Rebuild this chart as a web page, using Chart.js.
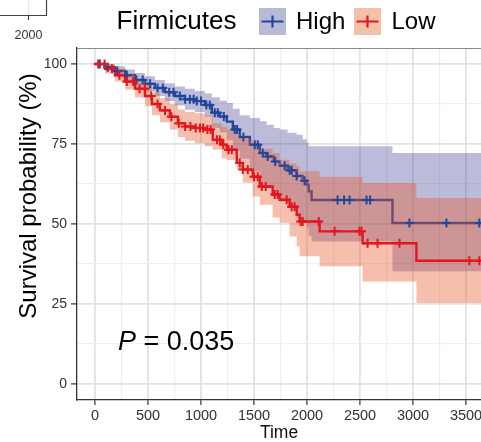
<!DOCTYPE html>
<html>
<head>
<meta charset="utf-8">
<script src="https://cdn.jsdelivr.net/npm/chart.js@4.4.0/dist/chart.umd.min.js"></script>
<style>
  html, body { margin: 0; padding: 0; background: #fff; }
  #wrap { width: 481px; height: 442px; }
</style>
</head>
<body>
<div id="wrap"><canvas id="survChart" width="481" height="442"></canvas></div>
<script>
// axis ticks
const xTicks = [0, 500, 1000, 1500, 2000, 2500, 3000, 3500];
const yTicks = [0, 25, 50, 75, 100];
const groups = ['High', 'Low'];
const legendTitle = 'Firmicutes';
const pLabel = '0.035';

// High group: step times, survival (%), confidence band
const highTime  = [0, 94, 188, 283, 377, 471, 565, 659, 753, 848, 942, 1036, 1102, 1177, 1243, 1300, 1365, 1460, 1554, 1620, 1686, 1742, 1817, 1902, 1959, 1996, 2015, 2043, 2806, 3700];
const highSurv  = [100, 99, 97.8, 96.5, 95, 93.8, 92.5, 91.2, 90, 89, 88.4, 87.2, 84.8, 83.6, 82, 79.5, 77.2, 74.8, 72.2, 71.1, 69.5, 68.2, 66.8, 65, 63.5, 62.3, 60.2, 57.5, 50.3, 50.3];
const highUpper = [100, 100, 99.3, 98.3, 97.2, 96.2, 95, 94, 93, 92.3, 91.6, 90.8, 89.6, 88.5, 87.8, 86, 84, 83.1, 82.1, 81, 80, 79.5, 78.5, 77.9, 76.5, 75.5, 74.3, 74.3, 72.2, 72.2];
const highLower = [100, 98, 96.3, 94.7, 92.8, 91.4, 90, 88.4, 87, 85.7, 85, 83.6, 80, 78.7, 76.2, 72.8, 70.4, 66.4, 62.3, 61.2, 59, 57, 55, 52, 50.5, 49, 46.2, 44.5, 35.2, 35.2];
const highCensor = [45, 120, 210, 300, 390, 450, 520, 590, 640, 700, 740, 800, 850, 895, 930, 960, 1000, 1050, 1083, 1130, 1158, 1215, 1318, 1340, 1400, 1507, 1535, 1582, 1629, 1700, 1789, 1836, 1855, 1902, 1977, 2288, 2350, 2401, 2561, 2595, 2966, 3315, 3625];

// Low group
const lowTime  = [0, 94, 188, 283, 377, 471, 537, 612, 706, 782, 848, 942, 1036, 1111, 1196, 1243, 1337, 1394, 1488, 1554, 1676, 1742, 1836, 1902, 1930, 2119, 2524, 3032, 3700];
const lowSurv  = [100, 98.5, 96.5, 94.5, 92.3, 90, 87.5, 85.5, 83.5, 81.5, 80.5, 80, 79.5, 76.3, 74.8, 73.2, 69.1, 67, 64.8, 61.7, 59.2, 57.6, 55.4, 52.9, 50.8, 47.7, 44, 38.5, 38.5];
const lowUpper = [100, 99.8, 98.5, 97, 95.2, 93.2, 91, 89.3, 87.6, 85.8, 85, 84.6, 84, 81.5, 80.4, 79.5, 77.9, 76.5, 75.4, 73.5, 72.2, 70.1, 69, 68, 66.5, 64.8, 62.8, 58.1, 58.1];
const lowLower = [100, 97, 94.5, 92, 89.5, 86.8, 84, 81.8, 79.5, 77.2, 76, 75.2, 74.3, 73.2, 70.5, 70, 67, 62.9, 58.6, 56, 52, 50.4, 46.1, 43, 39.9, 36.8, 32, 25.3, 25.3];
const lowCensor = [30, 90, 160, 230, 300, 360, 420, 470, 530, 590, 660, 720, 790, 850, 900, 950, 990, 1020, 1060, 1090, 1150, 1177, 1210, 1260, 1290, 1365, 1394, 1441, 1500, 1535, 1573, 1610, 1695, 1723, 1808, 1855, 1883, 1940, 1959, 2110, 2260, 2495, 2514, 2571, 2665, 2872, 3531, 3625];

const colors = {
  highLine: '#22479a',
  lowLine: '#e3161e',
  highFill: 'rgba(46,46,140,0.32)',
  lowFill: 'rgba(232,84,40,0.38)',
  highKey: '#b9bad6',
  lowKey: '#f3c1a9'
};

const FONT = "'Liberation Sans', Arial, Helvetica, sans-serif";
Chart.defaults.font.family = FONT;

function pts(xs, ys) {
  return xs.map((x, i) => ({ x: x, y: ys[i] }));
}

// survival level of a step curve at time t
function stepAt(times, values, t) {
  let v = values[0];
  for (let i = 0; i < times.length; i++) {
    if (times[i] <= t) v = values[i];
  }
  return v;
}

function censorPts(cTimes, times, values) {
  return cTimes.map(t => ({ x: t, y: stepAt(times, values, t) }));
}

const clear = 'rgba(0,0,0,0)';
const xGrid = [];
for (let v = 0; v <= 3500; v += 250) xGrid.push(v);
const yGrid = [];
for (let v = 0; v <= 100; v += 12.5) yGrid.push(v);

// extra text: legend, y title, p value, piece of neighbouring panel
const decorations = {
  id: 'decorations',
  afterDraw(chart) {
    const ctx = chart.ctx;
    const area = chart.chartArea;
    ctx.save();

    // top panel border
    ctx.strokeStyle = '#8a8a8a';
    ctx.lineWidth = 1.2;
    ctx.beginPath();
    ctx.moveTo(area.left, area.top + 0.5);
    ctx.lineTo(area.right, area.top + 0.5);
    ctx.stroke();

    // neighbouring panel fragment (top-left)
    ctx.strokeStyle = '#e6e6e6';
    ctx.lineWidth = 1.2;
    ctx.beginPath();
    ctx.moveTo(28.5, 0); ctx.lineTo(28.5, 15);
    ctx.stroke();
    ctx.strokeStyle = '#444';
    ctx.lineWidth = 1.2;
    ctx.beginPath();
    ctx.moveTo(0, 15.5); ctx.lineTo(46.5, 15.5); ctx.lineTo(46.5, 0);
    ctx.moveTo(28.5, 16); ctx.lineTo(28.5, 20);
    ctx.stroke();
    ctx.fillStyle = '#333';
    ctx.font = '12.5px ' + FONT;
    ctx.textAlign = 'center';
    ctx.textBaseline = 'alphabetic';
    ctx.fillText('2000', 28.5, 38.5);

    // legend
    ctx.fillStyle = '#000';
    ctx.textAlign = 'left';
    ctx.font = '26px ' + FONT;
    ctx.fillText(legendTitle, 116.5, 28.5);
    const keys = [
      { label: groups[0], x: 259, fill: colors.highKey, line: colors.highLine, tx: 296 },
      { label: groups[1], x: 354, fill: colors.lowKey, line: colors.lowLine, tx: 391.5 }
    ];
    keys.forEach(k => {
      ctx.fillStyle = k.fill;
      ctx.fillRect(k.x, 8, 27, 27);
      ctx.strokeStyle = k.line;
      ctx.lineWidth = 2.2;
      ctx.beginPath();
      ctx.moveTo(k.x + 2.5, 21.5); ctx.lineTo(k.x + 24.5, 21.5);
      ctx.moveTo(k.x + 13.5, 15.5); ctx.lineTo(k.x + 13.5, 27.5);
      ctx.stroke();
      ctx.fillStyle = '#000';
      ctx.font = '24px ' + FONT;
      ctx.fillText(k.label, k.tx, 28.5);
    });

    // y axis title
    ctx.save();
    ctx.translate(35.5, 196);
    ctx.rotate(-Math.PI / 2);
    ctx.textAlign = 'center';
    ctx.font = '24px ' + FONT;
    ctx.fillStyle = '#000';
    ctx.fillText('Survival probability (%)', 0, 0);
    ctx.restore();

    // p value
    ctx.textAlign = 'left';
    ctx.fillStyle = '#000';
    ctx.font = 'italic 27px ' + FONT;
    ctx.fillText('P', 118, 350);
    const pw = ctx.measureText('P').width;
    ctx.font = '27px ' + FONT;
    ctx.fillText(' = ' + pLabel, 118 + pw, 350);

    ctx.restore();
  }
};

function buildChart() {
  const ctx = document.getElementById('survChart').getContext('2d');
  new Chart(ctx, {
    type: 'line',
    data: {
      datasets: [
        {
          label: 'High upper', data: pts(highTime, highUpper), stepped: true,
          borderColor: clear, borderWidth: 0, pointRadius: 0,
          backgroundColor: colors.highFill, fill: '+1', order: 6
        },
        {
          label: 'High lower', data: pts(highTime, highLower), stepped: true,
          borderColor: clear, borderWidth: 0, pointRadius: 0, fill: false, order: 6
        },
        {
          label: 'High', data: pts(highTime, highSurv), stepped: true,
          borderColor: colors.highLine, borderWidth: 2.4, pointRadius: 0, fill: false, order: 5
        },
        {
          label: 'Low upper', data: pts(lowTime, lowUpper), stepped: true,
          borderColor: clear, borderWidth: 0, pointRadius: 0,
          backgroundColor: colors.lowFill, fill: '+1', order: 4
        },
        {
          label: 'Low lower', data: pts(lowTime, lowLower), stepped: true,
          borderColor: clear, borderWidth: 0, pointRadius: 0, fill: false, order: 4
        },
        {
          label: 'Low', data: pts(lowTime, lowSurv), stepped: true,
          borderColor: colors.lowLine, borderWidth: 2.4, pointRadius: 0, fill: false, order: 3
        },
        {
          label: 'High censor', data: censorPts(highCensor, highTime, highSurv),
          showLine: false, pointStyle: 'cross', pointRadius: 4.5, pointBorderWidth: 2,
          borderColor: colors.highLine, pointBorderColor: colors.highLine, order: 2
        },
        {
          label: 'Low censor', data: censorPts(lowCensor, lowTime, lowSurv),
          showLine: false, pointStyle: 'cross', pointRadius: 4.5, pointBorderWidth: 2,
          borderColor: colors.lowLine, pointBorderColor: colors.lowLine, order: 1
        }
      ]
    },
    options: {
      responsive: false,
      animation: false,
      events: [],
      layout: { autoPadding: false, padding: { top: 48, left: 0, right: 0, bottom: 0 } },
      plugins: {
        legend: { display: false },
        tooltip: { enabled: false }
      },
      scales: {
        x: {
          type: 'linear',
          min: -170,
          max: 3641,
          afterBuildTicks: s => { s.ticks = xGrid.map(v => ({ value: v })); },
          afterFit: s => { s.height = 42; s.paddingLeft = 0; s.paddingRight = 0; },
          ticks: {
            autoSkip: false,
            maxRotation: 0,
            padding: 2,
            color: '#333',
            font: { size: 14.5 },
            callback: v => xTicks.includes(v) ? String(v) : ''
          },
          grid: {
            color: c => xTicks.includes(c.tick.value) ? '#e2e2e2' : '#efefef',
            lineWidth: c => xTicks.includes(c.tick.value) ? 1.8 : 1.2,
            tickLength: 5,
            tickColor: c => xTicks.includes(c.tick.value) ? '#333' : clear,
            tickWidth: 1.2
          },
          border: { display: true, color: '#333', width: 1.3 },
          title: {
            display: true, text: 'Time', color: '#111',
            font: { size: 17.5, lineHeight: 1 }, padding: { top: 0, bottom: 0 }
          }
        },
        y: {
          min: -5,
          max: 105,
          afterBuildTicks: s => { s.ticks = yGrid.map(v => ({ value: v })); },
          afterFit: s => { s.width = 77; s.paddingTop = 0; s.paddingBottom = 0; },
          ticks: {
            padding: 4,
            color: '#333',
            font: { size: 14 },
            callback: v => yTicks.includes(v) ? String(v) : ''
          },
          grid: {
            color: c => yTicks.includes(c.tick.value) ? '#e2e2e2' : '#efefef',
            lineWidth: c => yTicks.includes(c.tick.value) ? 1.8 : 1.2,
            tickLength: 6,
            tickColor: c => yTicks.includes(c.tick.value) ? '#333' : clear,
            tickWidth: 1.2
          },
          border: { display: true, color: '#333', width: 1.3 }
        }
      }
    },
    plugins: [decorations]
  });
}

document.addEventListener('DOMContentLoaded', buildChart);
</script>
</body>
</html>
